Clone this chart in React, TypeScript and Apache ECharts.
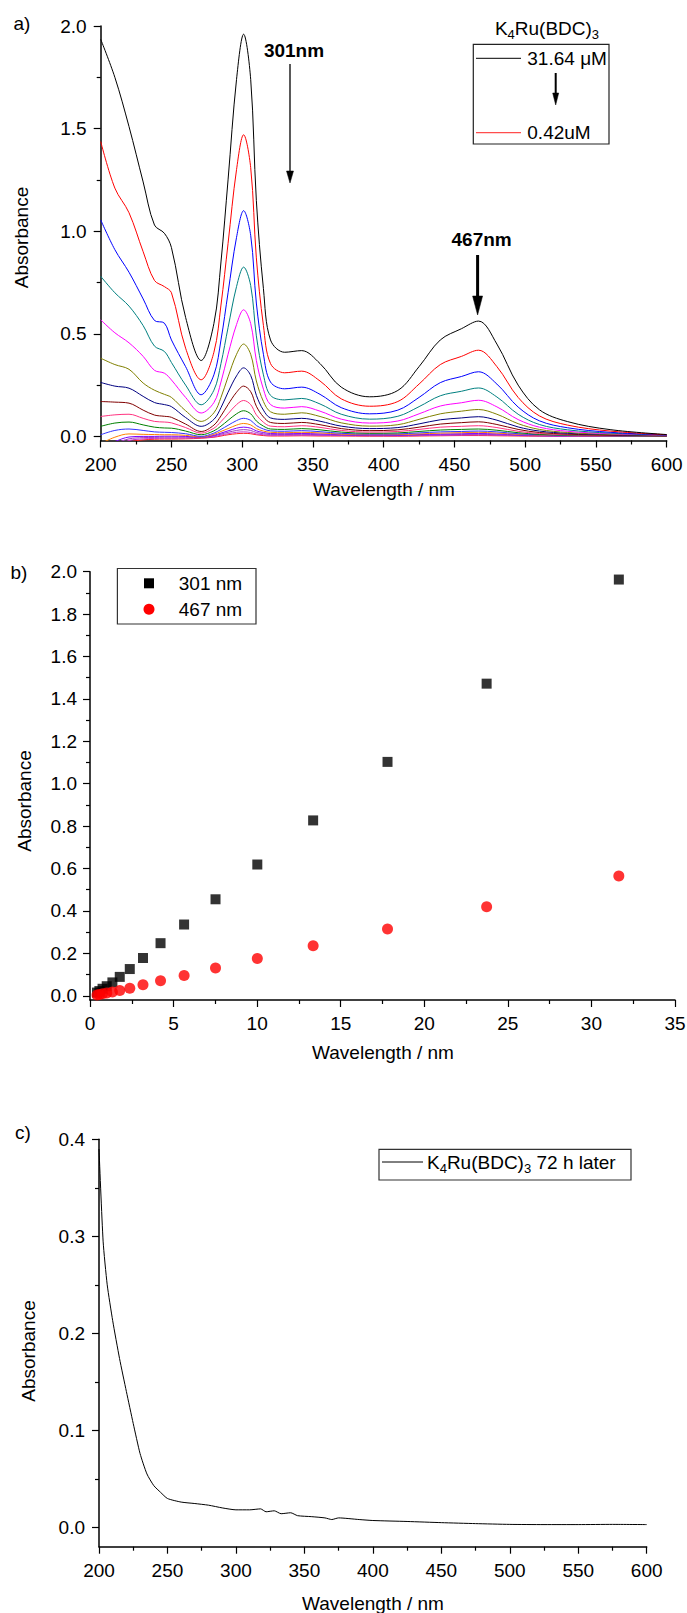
import React, { useEffect, useRef } from 'react';
import * as echarts from 'echarts';

// ---------- Panel a: UV-vis spectra (absorbance vs wavelength) ----------
const wavelengths = [200, 210, 220, 230, 238, 245, 250, 260, 271, 280, 285, 290, 296, 301, 306, 310, 315, 320, 330, 342, 355, 370, 390, 410, 425, 440, 455, 467, 480, 495, 510, 530, 560, 600];

const concentrations = [31.64, 23.73, 17.80, 13.35, 10.01, 7.51, 5.63, 4.22, 3.17, 2.38, 1.78, 1.34, 1.00, 0.75, 0.56, 0.42];

const spec3164 = [1.935, 1.75, 1.51, 1.24, 1.03, 0.99, 0.92, 0.58, 0.37, 0.55, 0.85, 1.25, 1.74, 1.96, 1.74, 1.15, 0.72, 0.47, 0.41, 0.418, 0.355, 0.24, 0.193, 0.224, 0.34, 0.47, 0.525, 0.562, 0.45, 0.25, 0.13, 0.072, 0.033, 0.009];
const spec2373 = [1.437, 1.21, 1.09, 0.90, 0.76, 0.73, 0.70, 0.43, 0.276, 0.41, 0.64, 0.94, 1.30, 1.47, 1.31, 0.87, 0.54, 0.355, 0.31, 0.318, 0.27, 0.183, 0.147, 0.17, 0.255, 0.35, 0.39, 0.42, 0.34, 0.19, 0.10, 0.055, 0.026, 0.008];
const spec1780 = [1.055, 0.91, 0.80, 0.67, 0.565, 0.552, 0.47, 0.34, 0.203, 0.30, 0.47, 0.70, 0.97, 1.10, 0.98, 0.65, 0.40, 0.265, 0.232, 0.24, 0.205, 0.14, 0.11, 0.128, 0.19, 0.262, 0.292, 0.315, 0.255, 0.143, 0.076, 0.042, 0.02, 0.007];
const spec1335 = [0.78, 0.70, 0.635, 0.54, 0.44, 0.414, 0.36, 0.25, 0.154, 0.225, 0.355, 0.53, 0.73, 0.825, 0.735, 0.49, 0.30, 0.20, 0.178, 0.185, 0.158, 0.108, 0.084, 0.098, 0.145, 0.198, 0.22, 0.236, 0.192, 0.108, 0.058, 0.032, 0.016, 0.007];
const spec1001 = [0.568, 0.505, 0.456, 0.39, 0.322, 0.308, 0.275, 0.19, 0.114, 0.165, 0.265, 0.40, 0.545, 0.617, 0.55, 0.37, 0.23, 0.155, 0.138, 0.145, 0.123, 0.084, 0.065, 0.075, 0.11, 0.148, 0.164, 0.176, 0.144, 0.082, 0.045, 0.025, 0.013, 0.006];
const spec751 = [0.381, 0.35, 0.327, 0.26, 0.225, 0.205, 0.19, 0.125, 0.073, 0.115, 0.19, 0.29, 0.40, 0.45, 0.40, 0.27, 0.17, 0.12, 0.108, 0.115, 0.097, 0.066, 0.05, 0.057, 0.083, 0.11, 0.123, 0.131, 0.108, 0.062, 0.034, 0.019, 0.01, 0.005];
const spec563 = [0.263, 0.245, 0.235, 0.195, 0.165, 0.155, 0.145, 0.092, 0.049, 0.083, 0.14, 0.215, 0.295, 0.334, 0.297, 0.20, 0.128, 0.09, 0.083, 0.088, 0.074, 0.05, 0.038, 0.043, 0.061, 0.081, 0.09, 0.096, 0.079, 0.046, 0.026, 0.015, 0.008, 0.004];
const spec422 = [0.17, 0.167, 0.162, 0.128, 0.104, 0.098, 0.093, 0.06, 0.024, 0.055, 0.10, 0.155, 0.215, 0.245, 0.218, 0.147, 0.095, 0.068, 0.063, 0.068, 0.057, 0.038, 0.028, 0.032, 0.045, 0.06, 0.067, 0.071, 0.058, 0.034, 0.019, 0.011, 0.006, 0.003];
const spec317 = [0.097, 0.105, 0.108, 0.088, 0.073, 0.07, 0.066, 0.043, 0.016, 0.04, 0.072, 0.11, 0.155, 0.175, 0.155, 0.105, 0.069, 0.05, 0.047, 0.052, 0.044, 0.029, 0.021, 0.024, 0.034, 0.045, 0.049, 0.052, 0.043, 0.025, 0.014, 0.008, 0.005, 0.003];
const spec238 = [0.049, 0.065, 0.07, 0.056, 0.045, 0.041, 0.04, 0.026, 0.008, 0.027, 0.05, 0.078, 0.11, 0.125, 0.11, 0.075, 0.05, 0.036, 0.034, 0.038, 0.032, 0.021, 0.015, 0.017, 0.024, 0.031, 0.034, 0.036, 0.03, 0.018, 0.01, 0.006, 0.004, 0.002];
const spec178 = [0.008, 0.029, 0.036, 0.029, 0.022, 0.02, 0.019, 0.013, 0.0, 0.016, 0.034, 0.054, 0.077, 0.088, 0.078, 0.053, 0.036, 0.027, 0.025, 0.028, 0.023, 0.015, 0.011, 0.012, 0.017, 0.022, 0.024, 0.026, 0.022, 0.013, 0.008, 0.005, 0.003, 0.002];
const spec134 = [-0.035, -0.004, 0.012, 0.01, 0.009, 0.008, 0.008, 0.005, -0.003, 0.01, 0.024, 0.038, 0.055, 0.063, 0.056, 0.038, 0.026, 0.02, 0.018, 0.02, 0.017, 0.011, 0.008, 0.009, 0.012, 0.016, 0.018, 0.02, 0.016, 0.01, 0.006, 0.004, 0.002, 0.001];
const spec100 = [-0.05, -0.025, -0.003, 0.0, 0.0, 0.001, 0.001, 0.0, -0.004, 0.005, 0.016, 0.027, 0.04, 0.045, 0.04, 0.027, 0.019, 0.014, 0.013, 0.014, 0.012, 0.008, 0.006, 0.006, 0.009, 0.011, 0.013, 0.014, 0.012, 0.007, 0.004, 0.003, 0.002, 0.001];
const spec075 = [-0.06, -0.035, -0.012, -0.006, -0.005, -0.004, -0.004, -0.004, -0.005, 0.002, 0.011, 0.02, 0.029, 0.033, 0.029, 0.019, 0.013, 0.009, 0.009, 0.01, 0.008, 0.006, 0.004, 0.004, 0.006, 0.008, 0.009, 0.01, 0.008, 0.005, 0.003, 0.002, 0.001, 0.001];
const spec056 = [-0.07, -0.045, -0.02, -0.012, -0.01, -0.009, -0.009, -0.008, -0.007, -0.002, 0.006, 0.013, 0.02, 0.022, 0.019, 0.012, 0.008, 0.005, 0.005, 0.006, 0.005, 0.004, 0.003, 0.003, 0.004, 0.005, 0.006, 0.007, 0.006, 0.004, 0.002, 0.001, 0.001, 0.0];
const spec042 = [-0.08, -0.055, -0.028, -0.017, -0.014, -0.013, -0.013, -0.012, -0.009, -0.004, 0.002, 0.008, 0.013, 0.015, 0.013, 0.008, 0.004, 0.002, 0.002, 0.003, 0.002, 0.002, 0.001, 0.001, 0.002, 0.003, 0.004, 0.004, 0.003, 0.002, 0.001, 0.001, 0.0, 0.0];

const spectra = [spec3164, spec2373, spec1780, spec1335, spec1001, spec751, spec563, spec422, spec317, spec238, spec178, spec134, spec100, spec075, spec056, spec042];
const spectraColors = ['#000000', '#ff0000', '#0000ff', '#008080', '#ff00ff', '#808000', '#000080', '#800000', '#ff3380', '#008000', '#3333ff', '#ff8000', '#8000ff', '#a040c0', '#cc33cc', '#ff2020'];

// ---------- Panel b: absorbance vs concentration ----------
const abs301 = [1.963, 1.472, 1.103, 0.827, 0.619, 0.455, 0.336, 0.248, 0.178, 0.126, 0.089, 0.063, 0.045, 0.033, 0.022, 0.015];
const abs467 = [0.565, 0.420, 0.315, 0.236, 0.176, 0.131, 0.096, 0.071, 0.052, 0.035, 0.025, 0.018, 0.013, 0.009, 0.006, 0.004];

// ---------- Panel c: spectrum 72 h later ----------
const wavelengthsC = [200, 203, 206, 210, 215, 220, 225, 230, 235, 240, 245, 250, 260, 270, 280, 290, 300, 310, 318, 322, 328, 333, 340, 345, 355, 365, 370, 375, 390, 400, 425, 450, 475, 500, 525, 550, 575, 600];
const absC = [0.39, 0.295, 0.25, 0.213, 0.174, 0.14, 0.107, 0.076, 0.055, 0.043, 0.036, 0.0297, 0.026, 0.0245, 0.0228, 0.020, 0.018, 0.018, 0.019, 0.016, 0.017, 0.014, 0.015, 0.012, 0.011, 0.0097, 0.008, 0.0097, 0.008, 0.007, 0.006, 0.0048, 0.0038, 0.003, 0.0028, 0.0028, 0.003, 0.0028];

// tick labels
const ticksA = [0, 0.5, 1.0, 1.5, 2.0];
const minorA = [0.25, 0.75, 1.25, 1.75];
const ticksB = [0, 0.2, 0.4, 0.6, 0.8, 1.0, 1.2, 1.4, 1.6, 1.8, 2.0];
const minorB = [0.1, 0.3, 0.5, 0.7, 0.9, 1.1, 1.3, 1.5, 1.7, 1.9];
const ticksC = [0, 0.1, 0.2, 0.3, 0.4];
const minorC = [0.05, 0.15, 0.25, 0.35];

const FONT = 'Liberation Sans, Arial, sans-serif';
const FS = 19;

function xAxisCfg(gridIndex: number, min: number, max: number, interval: number, margin: number) {
  return {
    type: 'value', gridIndex, min, max, interval,
    axisLine: { show: true, onZero: false, lineStyle: { color: '#000', width: 1.5 } },
    axisTick: { show: true, inside: false, length: 7, lineStyle: { color: '#000', width: 1.2 } },
    minorTick: { show: true, splitNumber: 2, length: 4, lineStyle: { color: '#000', width: 1.2 } },
    axisLabel: { show: true, margin, color: '#000', fontSize: FS, fontFamily: FONT, showMinLabel: true, showMaxLabel: true },
    splitLine: { show: false },
    minorSplitLine: { show: false },
  };
}

function yAxesCfg(gridIndex: number, min: number, max: number, major: number[], minor: number[], margin: number) {
  return [
    {
      type: 'value', gridIndex, min, max, position: 'left', offset: 0,
      axisLine: { show: true, onZero: false, lineStyle: { color: '#000', width: 1.5 } },
      axisTick: { show: true, inside: false, length: 7, customValues: major, lineStyle: { color: '#000', width: 1.2 } },
      axisLabel: { show: true, customValues: major, margin, color: '#000', fontSize: FS, fontFamily: FONT, formatter: (v: number) => v.toFixed(1) },
      splitLine: { show: false },
    },
    {
      type: 'value', gridIndex, min, max, position: 'left', offset: 0,
      axisLine: { show: false, onZero: false },
      axisTick: { show: true, inside: false, length: 4, customValues: minor, lineStyle: { color: '#000', width: 1.2 } },
      axisLabel: { show: false },
      splitLine: { show: false },
    },
  ];
}

function txt(x: number, y: number, text: string, extra: any = {}, rotation = 0) {
  return {
    type: 'text', x, y, rotation, z: 10,
    style: {
      text, fontSize: FS, fontFamily: FONT, fill: '#000',
      align: 'center', verticalAlign: 'middle', textAlign: 'center', textVerticalAlign: 'middle',
      ...extra,
    },
  };
}
function seg(x1: number, y1: number, x2: number, y2: number, color = '#000', w = 1.3) {
  return { type: 'line', z: 10, shape: { x1, y1, x2, y2 }, style: { stroke: color, lineWidth: w } };
}
function tri(points: number[][]) {
  return { type: 'polygon', z: 10, shape: { points }, style: { fill: '#000', stroke: '#000', lineWidth: 0.5 } };
}
const subRich = { s: { fontSize: 13, fontFamily: FONT, fill: '#000', padding: [12, 0, 0, 0] } };

export default function App() {
  const ref = useRef<HTMLDivElement>(null);
  useEffect(() => {
    document.body.style.margin = '0';
    if (!ref.current) return;
    const chart = echarts.init(ref.current, undefined, { renderer: 'svg' });

    const seriesA = spectra.map((s, i) => ({
      type: 'line', name: concentrations[i] + ' uM', xAxisIndex: 0, yAxisIndex: 0,
      data: wavelengths.map((w, j) => [w, s[j]]),
      showSymbol: false, smooth: 0.35, clip: true,
      lineStyle: { color: spectraColors[i], width: 1 },
      itemStyle: { color: spectraColors[i] },
      z: 2 + (15 - i) * 0.01,
    }));

    const option: any = {
      animation: false,
      backgroundColor: '#fff',
      grid: [
        { left: 100.7, top: 26, width: 566, height: 414.5, outerBoundsMode: 'none', containLabel: false },
        { left: 90, top: 571.7, width: 585, height: 428.3, outerBoundsMode: 'none', containLabel: false },
        { left: 99, top: 1139.3, width: 547.7, height: 407.4, outerBoundsMode: 'none', containLabel: false },
      ],
      xAxis: [
        xAxisCfg(0, 200, 600, 50, 14),
        xAxisCfg(1, 0, 35, 5, 14),
        xAxisCfg(2, 200, 600, 50, 14),
      ],
      yAxis: [
        ...yAxesCfg(0, -0.02, 2.0, ticksA, minorA, 14),
        ...yAxesCfg(1, -0.02, 2.0, ticksB, minorB, 13),
        ...yAxesCfg(2, -0.02, 0.4, ticksC, minorC, 14),
      ],
      series: [
        ...seriesA,
        {
          type: 'scatter', name: '301 nm', xAxisIndex: 1, yAxisIndex: 2,
          data: concentrations.map((c, i) => [c, abs301[i]]),
          symbol: 'rect', symbolSize: 10, itemStyle: { color: '#000' },
        },
        {
          type: 'scatter', name: '467 nm', xAxisIndex: 1, yAxisIndex: 2,
          data: concentrations.map((c, i) => [c, abs467[i]]),
          symbol: 'circle', symbolSize: 11, itemStyle: { color: '#ff0000' },
        },
        {
          type: 'line', name: 'K4Ru(BDC)3 72 h later', xAxisIndex: 2, yAxisIndex: 4,
          data: wavelengthsC.map((w, i) => [w, absC[i]]),
          showSymbol: false, smooth: 0.2, clip: true,
          lineStyle: { color: '#000', width: 1 },
        },
      ],
      graphic: [
        // panel labels
        txt(22, 23, 'a)'),
        txt(19, 572, 'b)'),
        txt(23, 1132, 'c)'),
        // axis titles
        txt(21, 237.5, 'Absorbance', {}, Math.PI / 2),
        txt(24, 801, 'Absorbance', {}, Math.PI / 2),
        txt(28, 1351, 'Absorbance', {}, Math.PI / 2),
        txt(384, 489, 'Wavelength / nm'),
        txt(383, 1052, 'Wavelength / nm'),
        txt(373, 1603, 'Wavelength / nm'),
        // 301nm annotation
        txt(294, 50, '301nm', { fontWeight: 'bold' }),
        seg(290, 64, 290, 173, '#000', 1.3),
        tri([[286.5, 171], [293.5, 171], [290, 183]]),
        // 467nm annotation
        txt(481.6, 239, '467nm', { fontWeight: 'bold' }),
        seg(477.6, 255, 477.6, 298, '#000', 3),
        tri([[472.6, 296], [482.6, 296], [477.6, 315]]),
        // legend panel a
        txt(547, 28, 'K{s|4}Ru(BDC){s|3}', { rich: subRich }),
        { type: 'rect', z: 10, shape: { x: 473.3, y: 44.3, width: 135.7, height: 99.7 }, style: { fill: 'none', stroke: '#222', lineWidth: 1.2 } },
        seg(476, 58.3, 521, 58.3, '#000', 1),
        txt(527.3, 58.3, '31.64 μM', { align: 'left', textAlign: 'left' }),
        seg(555.7, 73, 555.7, 95, '#000', 2),
        tri([[552.7, 93], [558.7, 93], [555.7, 105]]),
        seg(476, 132.7, 521, 132.7, '#ff4d4d', 1.3),
        txt(527.3, 132.7, '0.42uM', { align: 'left', textAlign: 'left' }),
        // legend panel b
        { type: 'rect', z: 10, shape: { x: 117.4, y: 568.5, width: 138.6, height: 55.5 }, style: { fill: 'none', stroke: '#333', lineWidth: 1.2 } },
        { type: 'rect', z: 10, shape: { x: 144, y: 578.3, width: 10, height: 10 }, style: { fill: '#000' } },
        { type: 'circle', z: 10, shape: { cx: 149, cy: 609.3, r: 5.5 }, style: { fill: '#ff0000' } },
        txt(178.8, 583.3, '301 nm', { align: 'left', textAlign: 'left' }),
        txt(178.8, 609.3, '467 nm', { align: 'left', textAlign: 'left' }),
        // legend panel c
        { type: 'rect', z: 10, shape: { x: 379, y: 1149.3, width: 252, height: 30.7 }, style: { fill: 'none', stroke: '#333', lineWidth: 1.2 } },
        seg(382, 1162, 423, 1162, '#000', 1),
        txt(427, 1162, 'K{s|4}Ru(BDC){s|3} 72 h later', { align: 'left', textAlign: 'left', rich: subRich }),
      ],
    };
    chart.setOption(option);
    return () => chart.dispose();
  }, []);
  return <div ref={ref} style={{ width: 687, height: 1613 }} />;
}
